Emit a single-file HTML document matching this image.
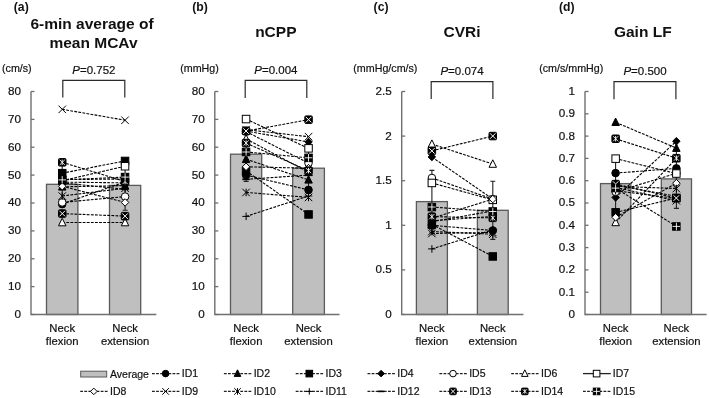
<!DOCTYPE html>
<html><head><meta charset="utf-8"><style>
html,body{margin:0;padding:0;background:#fff;width:709px;height:398px;overflow:hidden}
svg{will-change:transform}
svg text{font-family:"Liberation Sans",sans-serif;fill:#111}
svg text:not([font-weight]){stroke:#111;stroke-width:0.2px}
</style></head><body>
<svg width="709" height="398" viewBox="0 0 709 398" style="display:block;font-family:'Liberation Sans',sans-serif"><text x="13.8" y="11.0" font-size="12.2" font-weight="bold">(a)</text>
<text x="192.2" y="11.0" font-size="12.2" font-weight="bold">(b)</text>
<text x="373.6" y="11.0" font-size="12.2" font-weight="bold">(c)</text>
<text x="559.0" y="11.0" font-size="12.2" font-weight="bold">(d)</text>
<text x="92" y="29.2" font-size="15.5" font-weight="bold" text-anchor="middle">6-min average of</text>
<text x="93.5" y="48.1" font-size="15.5" font-weight="bold" text-anchor="middle">mean MCAv</text>
<text x="275.8" y="37.3" font-size="15.5" font-weight="bold" text-anchor="middle">nCPP</text>
<text x="462" y="37.3" font-size="15.5" font-weight="bold" text-anchor="middle">CVRi</text>
<text x="642.8" y="37.3" font-size="15.5" font-weight="bold" text-anchor="middle">Gain LF</text>
<text x="2.0" y="71.9" font-size="10.7">(cm/s)</text>
<text x="180.2" y="71.9" font-size="10.7">(mmHg)</text>
<text x="353.3" y="71.9" font-size="10.7">(mmHg/cm/s)</text>
<text x="539.2" y="71.9" font-size="10.7">(cm/s/mmHg)</text>
<text x="93.9" y="74.0" font-size="11.5" text-anchor="middle"><tspan font-style="italic">P</tspan>=0.752</text>
<path d="M62.8,97.6V80.3H124.8V97.6" fill="none" stroke="#2a2a2a" stroke-width="1.2"/>
<rect x="46.5" y="184.3" width="31.4" height="130.2" fill="#bfbfbf" stroke="#5a5a5a" stroke-width="1.3"/>
<rect x="109.5" y="185.4" width="31.2" height="129.1" fill="#bfbfbf" stroke="#5a5a5a" stroke-width="1.3"/>
<path d="M31.0,314.5H34.5" stroke="#6f6f6f" stroke-width="1.3"/>
<text x="21.0" y="317.9" font-size="11.7" text-anchor="end">0</text>
<path d="M31.0,286.6H34.5" stroke="#6f6f6f" stroke-width="1.3"/>
<text x="21.0" y="290.0" font-size="11.7" text-anchor="end">10</text>
<path d="M31.0,258.8H34.5" stroke="#6f6f6f" stroke-width="1.3"/>
<text x="21.0" y="262.1" font-size="11.7" text-anchor="end">20</text>
<path d="M31.0,230.9H34.5" stroke="#6f6f6f" stroke-width="1.3"/>
<text x="21.0" y="234.3" font-size="11.7" text-anchor="end">30</text>
<path d="M31.0,203.0H34.5" stroke="#6f6f6f" stroke-width="1.3"/>
<text x="21.0" y="206.4" font-size="11.7" text-anchor="end">40</text>
<path d="M31.0,175.1H34.5" stroke="#6f6f6f" stroke-width="1.3"/>
<text x="21.0" y="178.5" font-size="11.7" text-anchor="end">50</text>
<path d="M31.0,147.2H34.5" stroke="#6f6f6f" stroke-width="1.3"/>
<text x="21.0" y="150.7" font-size="11.7" text-anchor="end">60</text>
<path d="M31.0,119.4H34.5" stroke="#6f6f6f" stroke-width="1.3"/>
<text x="21.0" y="122.8" font-size="11.7" text-anchor="end">70</text>
<path d="M31.0,91.5H34.5" stroke="#6f6f6f" stroke-width="1.3"/>
<text x="21.0" y="94.9" font-size="11.7" text-anchor="end">80</text>
<path d="M31.0,91.5V314.5H156.3" fill="none" stroke="#6f6f6f" stroke-width="1.4"/>
<text x="62.2" y="332.2" font-size="11.3" text-anchor="middle">Neck</text>
<text x="62.2" y="345.0" font-size="11.3" text-anchor="middle">flexion</text>
<text x="125.1" y="332.2" font-size="11.3" text-anchor="middle">Neck</text>
<text x="125.1" y="345.0" font-size="11.3" text-anchor="middle">extension</text>
<path d="M62.2,161.5V207.2M59.7,161.5H64.7M59.7,207.2H64.7" stroke="#222" stroke-width="1.1"/>
<path d="M125.1,160.6V210.2M122.6,160.6H127.6M122.6,210.2H127.6" stroke="#222" stroke-width="1.1"/>
<path d="M62.2,204.1L125.1,181.8" stroke="#000" stroke-width="1.1" stroke-dasharray="2.8,1.3"/>
<path d="M62.2,186.8L125.1,185.7" stroke="#000" stroke-width="1.1" stroke-dasharray="2.8,1.3"/>
<path d="M62.2,173.2L125.1,160.9" stroke="#000" stroke-width="1.1" stroke-dasharray="2.8,1.3"/>
<path d="M62.2,182.1L125.1,182.9" stroke="#000" stroke-width="1.1" stroke-dasharray="2.8,1.3"/>
<path d="M62.2,202.4L125.1,196.6" stroke="#000" stroke-width="1.1" stroke-dasharray="2.8,1.3"/>
<path d="M62.2,222.5L125.1,222.5" stroke="#000" stroke-width="1.1" stroke-dasharray="2.8,1.3"/>
<path d="M62.2,180.7L125.1,166.2" stroke="#000" stroke-width="1.1" stroke-dasharray="2.8,1.3"/>
<path d="M62.2,186.3L125.1,202.4" stroke="#000" stroke-width="1.1" stroke-dasharray="2.8,1.3"/>
<path d="M62.2,109.3L125.1,120.2" stroke="#000" stroke-width="1.1" stroke-dasharray="2.8,1.3"/>
<path d="M62.2,196.0L125.1,188.2" stroke="#000" stroke-width="1.1" stroke-dasharray="2.8,1.3"/>
<path d="M62.2,179.6L125.1,179.0" stroke="#000" stroke-width="1.1" stroke-dasharray="2.8,1.3"/>
<path d="M62.2,182.9L125.1,189.3" stroke="#000" stroke-width="1.1" stroke-dasharray="2.8,1.3"/>
<path d="M62.2,213.6L125.1,216.1" stroke="#000" stroke-width="1.1" stroke-dasharray="2.8,1.3"/>
<path d="M62.2,162.3L125.1,181.5" stroke="#000" stroke-width="1.1" stroke-dasharray="2.8,1.3"/>
<path d="M62.2,179.9L125.1,177.1" stroke="#000" stroke-width="1.1" stroke-dasharray="2.8,1.3"/>
<circle cx="62.2" cy="204.1" r="3.8" fill="#000" stroke="#000" stroke-width="1"/>
<circle cx="125.1" cy="181.8" r="3.8" fill="#000" stroke="#000" stroke-width="1"/>
<polygon points="62.2,182.6 66.0,190.1 58.5,190.1" fill="#000" stroke="#000" stroke-width="1"/>
<polygon points="125.1,181.5 128.8,189.0 121.3,189.0" fill="#000" stroke="#000" stroke-width="1"/>
<rect x="58.5" y="169.4" width="7.5" height="7.5" fill="#000" stroke="#000" stroke-width="1"/>
<rect x="121.3" y="157.2" width="7.5" height="7.5" fill="#000" stroke="#000" stroke-width="1"/>
<polygon points="62.2,178.3 66.0,182.1 62.2,185.8 58.5,182.1" fill="#000" stroke="#000" stroke-width="1"/>
<polygon points="125.1,179.2 128.8,182.9 125.1,186.7 121.3,182.9" fill="#000" stroke="#000" stroke-width="1"/>
<circle cx="62.2" cy="202.4" r="3.8" fill="#fff" stroke="#000" stroke-width="1"/>
<circle cx="125.1" cy="196.6" r="3.8" fill="#fff" stroke="#000" stroke-width="1"/>
<polygon points="62.2,218.3 66.0,225.8 58.5,225.8" fill="#fff" stroke="#000" stroke-width="1"/>
<polygon points="125.1,218.3 128.8,225.8 121.3,225.8" fill="#fff" stroke="#000" stroke-width="1"/>
<rect x="58.5" y="176.9" width="7.5" height="7.5" fill="#fff" stroke="#000" stroke-width="1"/>
<rect x="121.3" y="162.5" width="7.5" height="7.5" fill="#fff" stroke="#000" stroke-width="1"/>
<polygon points="62.2,182.5 66.0,186.3 62.2,190.0 58.5,186.3" fill="#fff" stroke="#000" stroke-width="1"/>
<polygon points="125.1,198.7 128.8,202.4 125.1,206.2 121.3,202.4" fill="#fff" stroke="#000" stroke-width="1"/>
<path d="M58.5,105.6L66.0,113.1M66.0,105.6L58.5,113.1" stroke="#000" stroke-width="1"/>
<path d="M121.3,116.5L128.8,124.0M128.8,116.5L121.3,124.0" stroke="#000" stroke-width="1"/>
<path d="M58.5,192.3L66.0,199.8M66.0,192.3L58.5,199.8M62.2,192.3L62.2,199.8" stroke="#000" stroke-width="1"/>
<path d="M121.3,184.5L128.8,192.0M128.8,184.5L121.3,192.0M125.1,184.5L125.1,192.0" stroke="#000" stroke-width="1"/>
<path d="M58.5,179.6L66.0,179.6M62.2,175.8L62.2,183.3" stroke="#000" stroke-width="1"/>
<path d="M121.3,179.0L128.8,179.0M125.1,175.3L125.1,182.8" stroke="#000" stroke-width="1"/>
<path d="M58.5,182.9L66.0,182.9" stroke="#000" stroke-width="1.6"/>
<path d="M121.3,189.3L128.8,189.3" stroke="#000" stroke-width="1.6"/>
<rect x="58.5" y="209.8" width="7.5" height="7.5" rx="1" fill="#000" stroke="#000" stroke-width="1"/><path d="M59.5,210.8L65.0,216.3M65.0,210.8L59.5,216.3" stroke="#fff" stroke-width="1"/>
<rect x="121.3" y="212.4" width="7.5" height="7.5" rx="1" fill="#000" stroke="#000" stroke-width="1"/><path d="M122.3,213.4L127.8,218.9M127.8,213.4L122.3,218.9" stroke="#fff" stroke-width="1"/>
<rect x="58.5" y="158.6" width="7.5" height="7.5" rx="1" fill="#000" stroke="#000" stroke-width="1"/><path d="M59.7,159.8L64.8,164.9M64.8,159.8L59.7,164.9M62.2,159.6L62.2,165.1" stroke="#fff" stroke-width="0.9"/>
<rect x="121.3" y="177.8" width="7.5" height="7.5" rx="1" fill="#000" stroke="#000" stroke-width="1"/><path d="M122.5,179.0L127.6,184.1M127.6,179.0L122.5,184.1M125.1,178.8L125.1,184.3" stroke="#fff" stroke-width="0.9"/>
<rect x="58.5" y="176.1" width="7.5" height="7.5" fill="#000" stroke="#000" stroke-width="1"/><path d="M58.5,179.9L66.0,179.9M62.2,176.1L62.2,183.6" stroke="#fff" stroke-width="0.9"/>
<rect x="121.3" y="173.3" width="7.5" height="7.5" fill="#000" stroke="#000" stroke-width="1"/><path d="M121.3,177.1L128.8,177.1M125.1,173.3L125.1,180.8" stroke="#fff" stroke-width="0.9"/>
<text x="275.9" y="74.0" font-size="11.5" text-anchor="middle"><tspan font-style="italic">P</tspan>=0.004</text>
<path d="M245.2,97.9V80.4H306.8V97.9" fill="none" stroke="#2a2a2a" stroke-width="1.2"/>
<rect x="230.5" y="154.2" width="31.2" height="160.3" fill="#bfbfbf" stroke="#5a5a5a" stroke-width="1.3"/>
<rect x="292.7" y="168.2" width="31.7" height="146.3" fill="#bfbfbf" stroke="#5a5a5a" stroke-width="1.3"/>
<path d="M214.8,314.5H218.3" stroke="#6f6f6f" stroke-width="1.3"/>
<text x="204.8" y="317.9" font-size="11.7" text-anchor="end">0</text>
<path d="M214.8,286.6H218.3" stroke="#6f6f6f" stroke-width="1.3"/>
<text x="204.8" y="290.0" font-size="11.7" text-anchor="end">10</text>
<path d="M214.8,258.8H218.3" stroke="#6f6f6f" stroke-width="1.3"/>
<text x="204.8" y="262.1" font-size="11.7" text-anchor="end">20</text>
<path d="M214.8,230.9H218.3" stroke="#6f6f6f" stroke-width="1.3"/>
<text x="204.8" y="234.3" font-size="11.7" text-anchor="end">30</text>
<path d="M214.8,203.0H218.3" stroke="#6f6f6f" stroke-width="1.3"/>
<text x="204.8" y="206.4" font-size="11.7" text-anchor="end">40</text>
<path d="M214.8,175.1H218.3" stroke="#6f6f6f" stroke-width="1.3"/>
<text x="204.8" y="178.5" font-size="11.7" text-anchor="end">50</text>
<path d="M214.8,147.2H218.3" stroke="#6f6f6f" stroke-width="1.3"/>
<text x="204.8" y="150.7" font-size="11.7" text-anchor="end">60</text>
<path d="M214.8,119.4H218.3" stroke="#6f6f6f" stroke-width="1.3"/>
<text x="204.8" y="122.8" font-size="11.7" text-anchor="end">70</text>
<path d="M214.8,91.5H218.3" stroke="#6f6f6f" stroke-width="1.3"/>
<text x="204.8" y="94.9" font-size="11.7" text-anchor="end">80</text>
<path d="M214.8,91.5V314.5H339.5" fill="none" stroke="#6f6f6f" stroke-width="1.4"/>
<text x="246.1" y="332.2" font-size="11.3" text-anchor="middle">Neck</text>
<text x="246.1" y="345.0" font-size="11.3" text-anchor="middle">flexion</text>
<text x="308.5" y="332.2" font-size="11.3" text-anchor="middle">Neck</text>
<text x="308.5" y="345.0" font-size="11.3" text-anchor="middle">extension</text>
<path d="M246.1,127.0V181.4M243.6,127.0H248.6M243.6,181.4H248.6" stroke="#222" stroke-width="1.1"/>
<path d="M308.5,143.1V193.2M306.0,143.1H311.0M306.0,193.2H311.0" stroke="#222" stroke-width="1.1"/>
<path d="M246.1,175.1L308.5,189.9" stroke="#000" stroke-width="1.1" stroke-dasharray="2.8,1.3"/>
<path d="M246.1,159.2L308.5,179.9" stroke="#000" stroke-width="1.1" stroke-dasharray="2.8,1.3"/>
<path d="M246.1,170.9L308.5,214.4" stroke="#000" stroke-width="1.1" stroke-dasharray="2.8,1.3"/>
<path d="M246.1,131.1L308.5,142.0" stroke="#000" stroke-width="1.1" stroke-dasharray="2.8,1.3"/>
<path d="M246.1,131.6L308.5,163.1" stroke="#000" stroke-width="1.1" stroke-dasharray="2.8,1.3"/>
<path d="M246.1,138.9L308.5,172.3" stroke="#000" stroke-width="1.1" stroke-dasharray="2.8,1.3"/>
<path d="M246.1,119.1L308.5,148.4" stroke="#000" stroke-width="1.1" stroke-dasharray="2.8,1.3"/>
<path d="M246.1,166.8L308.5,168.2" stroke="#000" stroke-width="1.1" stroke-dasharray="2.8,1.3"/>
<path d="M246.1,129.7L308.5,136.7" stroke="#000" stroke-width="1.1" stroke-dasharray="2.8,1.3"/>
<path d="M246.1,192.4L308.5,197.4" stroke="#000" stroke-width="1.1" stroke-dasharray="2.8,1.3"/>
<path d="M246.1,216.4L308.5,196.0" stroke="#000" stroke-width="1.1" stroke-dasharray="2.8,1.3"/>
<path d="M246.1,179.3L308.5,175.1" stroke="#000" stroke-width="1.1" stroke-dasharray="2.8,1.3"/>
<path d="M246.1,131.1L308.5,119.7" stroke="#000" stroke-width="1.1" stroke-dasharray="2.8,1.3"/>
<path d="M246.1,143.1L308.5,170.7" stroke="#000" stroke-width="1.1" stroke-dasharray="2.8,1.3"/>
<path d="M246.1,152.0L308.5,157.8" stroke="#000" stroke-width="1.1" stroke-dasharray="2.8,1.3"/>
<circle cx="246.1" cy="175.1" r="3.8" fill="#000" stroke="#000" stroke-width="1"/>
<circle cx="308.5" cy="189.9" r="3.8" fill="#000" stroke="#000" stroke-width="1"/>
<polygon points="246.1,155.0 249.8,162.5 242.3,162.5" fill="#000" stroke="#000" stroke-width="1"/>
<polygon points="308.5,175.6 312.3,183.1 304.8,183.1" fill="#000" stroke="#000" stroke-width="1"/>
<rect x="242.3" y="167.2" width="7.5" height="7.5" fill="#000" stroke="#000" stroke-width="1"/>
<rect x="304.8" y="210.7" width="7.5" height="7.5" fill="#000" stroke="#000" stroke-width="1"/>
<polygon points="246.1,127.3 249.8,131.1 246.1,134.8 242.3,131.1" fill="#000" stroke="#000" stroke-width="1"/>
<polygon points="308.5,138.2 312.3,142.0 308.5,145.7 304.8,142.0" fill="#000" stroke="#000" stroke-width="1"/>
<circle cx="246.1" cy="131.6" r="3.8" fill="#fff" stroke="#000" stroke-width="1"/>
<circle cx="308.5" cy="163.1" r="3.8" fill="#fff" stroke="#000" stroke-width="1"/>
<polygon points="246.1,134.6 249.8,142.1 242.3,142.1" fill="#fff" stroke="#000" stroke-width="1"/>
<polygon points="308.5,168.1 312.3,175.6 304.8,175.6" fill="#fff" stroke="#000" stroke-width="1"/>
<rect x="242.3" y="115.3" width="7.5" height="7.5" fill="#fff" stroke="#000" stroke-width="1"/>
<rect x="304.8" y="144.6" width="7.5" height="7.5" fill="#fff" stroke="#000" stroke-width="1"/>
<polygon points="246.1,163.0 249.8,166.8 246.1,170.5 242.3,166.8" fill="#fff" stroke="#000" stroke-width="1"/>
<polygon points="308.5,164.4 312.3,168.2 308.5,171.9 304.8,168.2" fill="#fff" stroke="#000" stroke-width="1"/>
<path d="M242.3,125.9L249.8,133.4M249.8,125.9L242.3,133.4" stroke="#000" stroke-width="1"/>
<path d="M304.8,132.9L312.3,140.4M312.3,132.9L304.8,140.4" stroke="#000" stroke-width="1"/>
<path d="M242.3,188.7L249.8,196.2M249.8,188.7L242.3,196.2M246.1,188.7L246.1,196.2" stroke="#000" stroke-width="1"/>
<path d="M304.8,193.7L312.3,201.2M312.3,193.7L304.8,201.2M308.5,193.7L308.5,201.2" stroke="#000" stroke-width="1"/>
<path d="M242.3,216.4L249.8,216.4M246.1,212.6L246.1,220.1" stroke="#000" stroke-width="1"/>
<path d="M304.8,196.0L312.3,196.0M308.5,192.3L308.5,199.8" stroke="#000" stroke-width="1"/>
<path d="M242.3,179.3L249.8,179.3" stroke="#000" stroke-width="1.6"/>
<path d="M304.8,175.1L312.3,175.1" stroke="#000" stroke-width="1.6"/>
<rect x="242.3" y="127.3" width="7.5" height="7.5" rx="1" fill="#000" stroke="#000" stroke-width="1"/><path d="M243.3,128.3L248.8,133.8M248.8,128.3L243.3,133.8" stroke="#fff" stroke-width="1"/>
<rect x="304.8" y="115.9" width="7.5" height="7.5" rx="1" fill="#000" stroke="#000" stroke-width="1"/><path d="M305.8,116.9L311.3,122.4M311.3,116.9L305.8,122.4" stroke="#fff" stroke-width="1"/>
<rect x="242.3" y="139.3" width="7.5" height="7.5" rx="1" fill="#000" stroke="#000" stroke-width="1"/><path d="M243.5,140.5L248.7,145.6M248.7,140.5L243.5,145.6M246.1,140.3L246.1,145.8" stroke="#fff" stroke-width="0.9"/>
<rect x="304.8" y="166.9" width="7.5" height="7.5" rx="1" fill="#000" stroke="#000" stroke-width="1"/><path d="M306.0,168.1L311.1,173.2M311.1,168.1L306.0,173.2M308.5,167.9L308.5,173.4" stroke="#fff" stroke-width="0.9"/>
<rect x="242.3" y="148.2" width="7.5" height="7.5" fill="#000" stroke="#000" stroke-width="1"/><path d="M242.3,152.0L249.8,152.0M246.1,148.2L246.1,155.7" stroke="#fff" stroke-width="0.9"/>
<rect x="304.8" y="154.1" width="7.5" height="7.5" fill="#000" stroke="#000" stroke-width="1"/><path d="M304.8,157.8L312.3,157.8M308.5,154.1L308.5,161.6" stroke="#fff" stroke-width="0.9"/>
<text x="462.0" y="75.2" font-size="11.5" text-anchor="middle"><tspan font-style="italic">P</tspan>=0.074</text>
<path d="M431.2,99.0V81.6H492.9V99.0" fill="none" stroke="#2a2a2a" stroke-width="1.2"/>
<rect x="416.4" y="201.6" width="31.0" height="112.9" fill="#bfbfbf" stroke="#5a5a5a" stroke-width="1.3"/>
<rect x="477.4" y="210.3" width="30.8" height="104.2" fill="#bfbfbf" stroke="#5a5a5a" stroke-width="1.3"/>
<path d="M401.7,314.5H405.2" stroke="#6f6f6f" stroke-width="1.3"/>
<text x="391.7" y="317.9" font-size="11.7" text-anchor="end">0</text>
<path d="M401.7,269.9H405.2" stroke="#6f6f6f" stroke-width="1.3"/>
<text x="391.7" y="273.3" font-size="11.7" text-anchor="end">0.5</text>
<path d="M401.7,225.3H405.2" stroke="#6f6f6f" stroke-width="1.3"/>
<text x="391.7" y="228.7" font-size="11.7" text-anchor="end">1</text>
<path d="M401.7,180.7H405.2" stroke="#6f6f6f" stroke-width="1.3"/>
<text x="391.7" y="184.1" font-size="11.7" text-anchor="end">1.5</text>
<path d="M401.7,136.1H405.2" stroke="#6f6f6f" stroke-width="1.3"/>
<text x="391.7" y="139.5" font-size="11.7" text-anchor="end">2</text>
<path d="M401.7,91.5H405.2" stroke="#6f6f6f" stroke-width="1.3"/>
<text x="391.7" y="94.9" font-size="11.7" text-anchor="end">2.5</text>
<path d="M401.7,91.5V314.5H523.4" fill="none" stroke="#6f6f6f" stroke-width="1.4"/>
<text x="431.9" y="332.2" font-size="11.3" text-anchor="middle">Neck</text>
<text x="431.9" y="345.0" font-size="11.3" text-anchor="middle">flexion</text>
<text x="492.8" y="332.2" font-size="11.3" text-anchor="middle">Neck</text>
<text x="492.8" y="345.0" font-size="11.3" text-anchor="middle">extension</text>
<path d="M431.9,170.4V232.8M429.4,170.4H434.4M429.4,232.8H434.4" stroke="#222" stroke-width="1.1"/>
<path d="M492.8,181.2V239.4M490.3,181.2H495.3M490.3,239.4H495.3" stroke="#222" stroke-width="1.1"/>
<path d="M431.9,225.3L492.8,230.5" stroke="#000" stroke-width="1.1" stroke-dasharray="2.8,1.3"/>
<path d="M431.9,221.7L492.8,211.0" stroke="#000" stroke-width="1.1" stroke-dasharray="2.8,1.3"/>
<path d="M431.9,224.4L492.8,256.4" stroke="#000" stroke-width="1.1" stroke-dasharray="2.8,1.3"/>
<path d="M431.9,157.0L492.8,199.1" stroke="#000" stroke-width="1.1" stroke-dasharray="2.8,1.3"/>
<path d="M431.9,178.0L492.8,199.1" stroke="#000" stroke-width="1.1" stroke-dasharray="2.8,1.3"/>
<path d="M431.9,144.1L492.8,164.0" stroke="#000" stroke-width="1.1" stroke-dasharray="2.8,1.3"/>
<path d="M431.9,182.9L492.8,199.9" stroke="#000" stroke-width="1.1" stroke-dasharray="2.8,1.3"/>
<path d="M431.9,218.2L492.8,199.1" stroke="#000" stroke-width="1.1" stroke-dasharray="2.8,1.3"/>
<path d="M431.9,233.5L492.8,232.4" stroke="#000" stroke-width="1.1" stroke-dasharray="2.8,1.3"/>
<path d="M431.9,231.5L492.8,234.2" stroke="#000" stroke-width="1.1" stroke-dasharray="2.8,1.3"/>
<path d="M431.9,248.9L492.8,229.8" stroke="#000" stroke-width="1.1" stroke-dasharray="2.8,1.3"/>
<path d="M431.9,220.8L492.8,216.4" stroke="#000" stroke-width="1.1" stroke-dasharray="2.8,1.3"/>
<path d="M431.9,150.8L492.8,136.1" stroke="#000" stroke-width="1.1" stroke-dasharray="2.8,1.3"/>
<path d="M431.9,216.6L492.8,217.9" stroke="#000" stroke-width="1.1" stroke-dasharray="2.8,1.3"/>
<path d="M431.9,207.0L492.8,211.5" stroke="#000" stroke-width="1.1" stroke-dasharray="2.8,1.3"/>
<circle cx="431.9" cy="225.3" r="3.8" fill="#000" stroke="#000" stroke-width="1"/>
<circle cx="492.8" cy="230.5" r="3.8" fill="#000" stroke="#000" stroke-width="1"/>
<polygon points="431.9,217.5 435.6,225.0 428.1,225.0" fill="#000" stroke="#000" stroke-width="1"/>
<polygon points="492.8,206.8 496.5,214.3 489.0,214.3" fill="#000" stroke="#000" stroke-width="1"/>
<rect x="428.1" y="220.7" width="7.5" height="7.5" fill="#000" stroke="#000" stroke-width="1"/>
<rect x="489.0" y="252.7" width="7.5" height="7.5" fill="#000" stroke="#000" stroke-width="1"/>
<polygon points="431.9,153.2 435.6,157.0 431.9,160.7 428.1,157.0" fill="#000" stroke="#000" stroke-width="1"/>
<polygon points="492.8,195.3 496.5,199.1 492.8,202.8 489.0,199.1" fill="#000" stroke="#000" stroke-width="1"/>
<circle cx="431.9" cy="178.0" r="3.8" fill="#fff" stroke="#000" stroke-width="1"/>
<circle cx="492.8" cy="199.1" r="3.8" fill="#fff" stroke="#000" stroke-width="1"/>
<polygon points="431.9,139.9 435.6,147.4 428.1,147.4" fill="#fff" stroke="#000" stroke-width="1"/>
<polygon points="492.8,159.8 496.5,167.3 489.0,167.3" fill="#fff" stroke="#000" stroke-width="1"/>
<rect x="428.1" y="179.2" width="7.5" height="7.5" fill="#fff" stroke="#000" stroke-width="1"/>
<rect x="489.0" y="196.1" width="7.5" height="7.5" fill="#fff" stroke="#000" stroke-width="1"/>
<polygon points="431.9,214.4 435.6,218.2 431.9,221.9 428.1,218.2" fill="#fff" stroke="#000" stroke-width="1"/>
<polygon points="492.8,195.3 496.5,199.1 492.8,202.8 489.0,199.1" fill="#fff" stroke="#000" stroke-width="1"/>
<path d="M428.1,229.8L435.6,237.3M435.6,229.8L428.1,237.3" stroke="#000" stroke-width="1"/>
<path d="M489.0,228.7L496.5,236.2M496.5,228.7L489.0,236.2" stroke="#000" stroke-width="1"/>
<path d="M428.1,227.8L435.6,235.3M435.6,227.8L428.1,235.3M431.9,227.8L431.9,235.3" stroke="#000" stroke-width="1"/>
<path d="M489.0,230.5L496.5,238.0M496.5,230.5L489.0,238.0M492.8,230.5L492.8,238.0" stroke="#000" stroke-width="1"/>
<path d="M428.1,248.9L435.6,248.9M431.9,245.2L431.9,252.7" stroke="#000" stroke-width="1"/>
<path d="M489.0,229.8L496.5,229.8M492.8,226.0L492.8,233.5" stroke="#000" stroke-width="1"/>
<path d="M428.1,220.8L435.6,220.8" stroke="#000" stroke-width="1.6"/>
<path d="M489.0,216.4L496.5,216.4" stroke="#000" stroke-width="1.6"/>
<rect x="428.1" y="147.1" width="7.5" height="7.5" rx="1" fill="#000" stroke="#000" stroke-width="1"/><path d="M429.1,148.1L434.6,153.6M434.6,148.1L429.1,153.6" stroke="#fff" stroke-width="1"/>
<rect x="489.0" y="132.3" width="7.5" height="7.5" rx="1" fill="#000" stroke="#000" stroke-width="1"/><path d="M490.0,133.3L495.5,138.8M495.5,133.3L490.0,138.8" stroke="#fff" stroke-width="1"/>
<rect x="428.1" y="212.9" width="7.5" height="7.5" rx="1" fill="#000" stroke="#000" stroke-width="1"/><path d="M429.3,214.1L434.4,219.2M434.4,214.1L429.3,219.2M431.9,213.9L431.9,219.4" stroke="#fff" stroke-width="0.9"/>
<rect x="489.0" y="214.1" width="7.5" height="7.5" rx="1" fill="#000" stroke="#000" stroke-width="1"/><path d="M490.2,215.3L495.3,220.4M495.3,215.3L490.2,220.4M492.8,215.1L492.8,220.6" stroke="#fff" stroke-width="0.9"/>
<rect x="428.1" y="203.3" width="7.5" height="7.5" fill="#000" stroke="#000" stroke-width="1"/><path d="M428.1,207.0L435.6,207.0M431.9,203.3L431.9,210.8" stroke="#fff" stroke-width="0.9"/>
<rect x="489.0" y="207.7" width="7.5" height="7.5" fill="#000" stroke="#000" stroke-width="1"/><path d="M489.0,211.5L496.5,211.5M492.8,207.7L492.8,215.2" stroke="#fff" stroke-width="0.9"/>
<text x="645.0" y="75.2" font-size="11.5" text-anchor="middle"><tspan font-style="italic">P</tspan>=0.500</text>
<path d="M614.0,99.2V81.6H675.9V99.2" fill="none" stroke="#2a2a2a" stroke-width="1.2"/>
<rect x="600.5" y="183.6" width="30.3" height="130.9" fill="#bfbfbf" stroke="#5a5a5a" stroke-width="1.3"/>
<rect x="661.3" y="178.9" width="30.2" height="135.6" fill="#bfbfbf" stroke="#5a5a5a" stroke-width="1.3"/>
<path d="M585.0,314.5H588.5" stroke="#6f6f6f" stroke-width="1.3"/>
<text x="575.0" y="317.9" font-size="11.7" text-anchor="end">0</text>
<path d="M585.0,292.2H588.5" stroke="#6f6f6f" stroke-width="1.3"/>
<text x="575.0" y="295.6" font-size="11.7" text-anchor="end">0.1</text>
<path d="M585.0,269.9H588.5" stroke="#6f6f6f" stroke-width="1.3"/>
<text x="575.0" y="273.3" font-size="11.7" text-anchor="end">0.2</text>
<path d="M585.0,247.6H588.5" stroke="#6f6f6f" stroke-width="1.3"/>
<text x="575.0" y="251.0" font-size="11.7" text-anchor="end">0.3</text>
<path d="M585.0,225.3H588.5" stroke="#6f6f6f" stroke-width="1.3"/>
<text x="575.0" y="228.7" font-size="11.7" text-anchor="end">0.4</text>
<path d="M585.0,203.0H588.5" stroke="#6f6f6f" stroke-width="1.3"/>
<text x="575.0" y="206.4" font-size="11.7" text-anchor="end">0.5</text>
<path d="M585.0,180.7H588.5" stroke="#6f6f6f" stroke-width="1.3"/>
<text x="575.0" y="184.1" font-size="11.7" text-anchor="end">0.6</text>
<path d="M585.0,158.4H588.5" stroke="#6f6f6f" stroke-width="1.3"/>
<text x="575.0" y="161.8" font-size="11.7" text-anchor="end">0.7</text>
<path d="M585.0,136.1H588.5" stroke="#6f6f6f" stroke-width="1.3"/>
<text x="575.0" y="139.5" font-size="11.7" text-anchor="end">0.8</text>
<path d="M585.0,113.8H588.5" stroke="#6f6f6f" stroke-width="1.3"/>
<text x="575.0" y="117.2" font-size="11.7" text-anchor="end">0.9</text>
<path d="M585.0,91.5H588.5" stroke="#6f6f6f" stroke-width="1.3"/>
<text x="575.0" y="94.9" font-size="11.7" text-anchor="end">1</text>
<path d="M585.0,91.5V314.5H706.6" fill="none" stroke="#6f6f6f" stroke-width="1.4"/>
<text x="615.6" y="332.2" font-size="11.3" text-anchor="middle">Neck</text>
<text x="615.6" y="345.0" font-size="11.3" text-anchor="middle">flexion</text>
<text x="676.4" y="332.2" font-size="11.3" text-anchor="middle">Neck</text>
<text x="676.4" y="345.0" font-size="11.3" text-anchor="middle">extension</text>
<path d="M615.6,158.0V209.2M613.1,158.0H618.1M613.1,209.2H618.1" stroke="#222" stroke-width="1.1"/>
<path d="M676.4,149.5V208.4M673.9,149.5H678.9M673.9,208.4H678.9" stroke="#222" stroke-width="1.1"/>
<path d="M615.6,173.1L676.4,168.4" stroke="#000" stroke-width="1.1" stroke-dasharray="2.8,1.3"/>
<path d="M615.6,122.3L676.4,148.1" stroke="#000" stroke-width="1.1" stroke-dasharray="2.8,1.3"/>
<path d="M615.6,212.4L676.4,198.1" stroke="#000" stroke-width="1.1" stroke-dasharray="2.8,1.3"/>
<path d="M615.6,197.4L676.4,141.2" stroke="#000" stroke-width="1.1" stroke-dasharray="2.8,1.3"/>
<path d="M615.6,191.8L676.4,173.3" stroke="#000" stroke-width="1.1" stroke-dasharray="2.8,1.3"/>
<path d="M615.6,222.4L676.4,158.4" stroke="#000" stroke-width="1.1" stroke-dasharray="2.8,1.3"/>
<path d="M615.6,158.6L676.4,173.6" stroke="#000" stroke-width="1.1" stroke-dasharray="2.8,1.3"/>
<path d="M615.6,217.3L676.4,183.2" stroke="#000" stroke-width="1.1" stroke-dasharray="2.8,1.3"/>
<path d="M615.6,187.4L676.4,200.8" stroke="#000" stroke-width="1.1" stroke-dasharray="2.8,1.3"/>
<path d="M615.6,186.3L676.4,188.5" stroke="#000" stroke-width="1.1" stroke-dasharray="2.8,1.3"/>
<path d="M615.6,190.7L676.4,198.5" stroke="#000" stroke-width="1.1" stroke-dasharray="2.8,1.3"/>
<path d="M615.6,185.2L676.4,196.3" stroke="#000" stroke-width="1.1" stroke-dasharray="2.8,1.3"/>
<path d="M615.6,184.0L676.4,198.1" stroke="#000" stroke-width="1.1" stroke-dasharray="2.8,1.3"/>
<path d="M615.6,138.8L676.4,158.2" stroke="#000" stroke-width="1.1" stroke-dasharray="2.8,1.3"/>
<path d="M615.6,188.1L676.4,226.4" stroke="#000" stroke-width="1.1" stroke-dasharray="2.8,1.3"/>
<circle cx="615.6" cy="173.1" r="3.8" fill="#000" stroke="#000" stroke-width="1"/>
<circle cx="676.4" cy="168.4" r="3.8" fill="#000" stroke="#000" stroke-width="1"/>
<polygon points="615.6,118.0 619.4,125.5 611.9,125.5" fill="#000" stroke="#000" stroke-width="1"/>
<polygon points="676.4,143.9 680.1,151.4 672.6,151.4" fill="#000" stroke="#000" stroke-width="1"/>
<rect x="611.9" y="208.6" width="7.5" height="7.5" fill="#000" stroke="#000" stroke-width="1"/>
<rect x="672.6" y="194.3" width="7.5" height="7.5" fill="#000" stroke="#000" stroke-width="1"/>
<polygon points="615.6,193.7 619.4,197.4 615.6,201.2 611.9,197.4" fill="#000" stroke="#000" stroke-width="1"/>
<polygon points="676.4,137.5 680.1,141.2 676.4,145.0 672.6,141.2" fill="#000" stroke="#000" stroke-width="1"/>
<circle cx="615.6" cy="191.8" r="3.8" fill="#fff" stroke="#000" stroke-width="1"/>
<circle cx="676.4" cy="173.3" r="3.8" fill="#fff" stroke="#000" stroke-width="1"/>
<polygon points="615.6,218.2 619.4,225.7 611.9,225.7" fill="#fff" stroke="#000" stroke-width="1"/>
<polygon points="676.4,154.2 680.1,161.7 672.6,161.7" fill="#fff" stroke="#000" stroke-width="1"/>
<rect x="611.9" y="154.9" width="7.5" height="7.5" fill="#fff" stroke="#000" stroke-width="1"/>
<rect x="672.6" y="169.8" width="7.5" height="7.5" fill="#fff" stroke="#000" stroke-width="1"/>
<polygon points="615.6,213.5 619.4,217.3 615.6,221.0 611.9,217.3" fill="#fff" stroke="#000" stroke-width="1"/>
<polygon points="676.4,179.4 680.1,183.2 676.4,186.9 672.6,183.2" fill="#fff" stroke="#000" stroke-width="1"/>
<path d="M611.9,183.6L619.4,191.1M619.4,183.6L611.9,191.1" stroke="#000" stroke-width="1"/>
<path d="M672.6,197.0L680.1,204.5M680.1,197.0L672.6,204.5" stroke="#000" stroke-width="1"/>
<path d="M611.9,182.5L619.4,190.0M619.4,182.5L611.9,190.0M615.6,182.5L615.6,190.0" stroke="#000" stroke-width="1"/>
<path d="M672.6,184.8L680.1,192.3M680.1,184.8L672.6,192.3M676.4,184.8L676.4,192.3" stroke="#000" stroke-width="1"/>
<path d="M611.9,190.7L619.4,190.7M615.6,187.0L615.6,194.5" stroke="#000" stroke-width="1"/>
<path d="M672.6,198.5L680.1,198.5M676.4,194.8L676.4,202.3" stroke="#000" stroke-width="1"/>
<path d="M611.9,185.2L619.4,185.2" stroke="#000" stroke-width="1.6"/>
<path d="M672.6,196.3L680.1,196.3" stroke="#000" stroke-width="1.6"/>
<rect x="611.9" y="180.3" width="7.5" height="7.5" rx="1" fill="#000" stroke="#000" stroke-width="1"/><path d="M612.9,181.3L618.4,186.8M618.4,181.3L612.9,186.8" stroke="#fff" stroke-width="1"/>
<rect x="672.6" y="194.3" width="7.5" height="7.5" rx="1" fill="#000" stroke="#000" stroke-width="1"/><path d="M673.6,195.3L679.1,200.8M679.1,195.3L673.6,200.8" stroke="#fff" stroke-width="1"/>
<rect x="611.9" y="135.0" width="7.5" height="7.5" rx="1" fill="#000" stroke="#000" stroke-width="1"/><path d="M613.1,136.2L618.2,141.3M618.2,136.2L613.1,141.3M615.6,136.0L615.6,141.5" stroke="#fff" stroke-width="0.9"/>
<rect x="672.6" y="154.4" width="7.5" height="7.5" rx="1" fill="#000" stroke="#000" stroke-width="1"/><path d="M673.9,155.6L678.9,160.7M678.9,155.6L673.9,160.7M676.4,155.4L676.4,160.9" stroke="#fff" stroke-width="0.9"/>
<rect x="611.9" y="184.3" width="7.5" height="7.5" fill="#000" stroke="#000" stroke-width="1"/><path d="M611.9,188.1L619.4,188.1M615.6,184.3L615.6,191.8" stroke="#fff" stroke-width="0.9"/>
<rect x="672.6" y="222.7" width="7.5" height="7.5" fill="#000" stroke="#000" stroke-width="1"/><path d="M672.6,226.4L680.1,226.4M676.4,222.7L676.4,230.2" stroke="#fff" stroke-width="0.9"/>
<rect x="80.7" y="371.2" width="26" height="5.8" fill="#bfbfbf" stroke="#595959" stroke-width="1"/>
<text x="110.0" y="377.5" font-size="10.5">Average</text>
<path d="M152.0,373.6H179.8" stroke="#222" stroke-width="1.3" stroke-dasharray="2.8,1.3"/><circle cx="165.6" cy="373.6" r="3.3" fill="#000" stroke="#000" stroke-width="1"/><text x="181.8" y="377.2" font-size="10.5">ID1</text>
<path d="M223.9,373.6H251.7" stroke="#222" stroke-width="1.3" stroke-dasharray="2.8,1.3"/><polygon points="237.5,369.8 240.8,376.4 234.2,376.4" fill="#000" stroke="#000" stroke-width="1"/><text x="253.7" y="377.2" font-size="10.5">ID2</text>
<path d="M295.7,373.6H323.5" stroke="#222" stroke-width="1.3" stroke-dasharray="2.8,1.3"/><rect x="306.0" y="370.3" width="6.6" height="6.6" fill="#000" stroke="#000" stroke-width="1"/><text x="325.5" y="377.2" font-size="10.5">ID3</text>
<path d="M367.5,373.6H395.3" stroke="#222" stroke-width="1.3" stroke-dasharray="2.8,1.3"/><polygon points="381.1,370.3 384.4,373.6 381.1,376.9 377.8,373.6" fill="#000" stroke="#000" stroke-width="1"/><text x="397.3" y="377.2" font-size="10.5">ID4</text>
<path d="M439.4,373.6H467.2" stroke="#222" stroke-width="1.3" stroke-dasharray="2.8,1.3"/><circle cx="453.0" cy="373.6" r="3.3" fill="#fff" stroke="#000" stroke-width="1"/><text x="469.2" y="377.2" font-size="10.5">ID5</text>
<path d="M511.2,373.6H539.0" stroke="#222" stroke-width="1.3" stroke-dasharray="2.8,1.3"/><polygon points="524.8,369.8 528.1,376.4 521.5,376.4" fill="#fff" stroke="#000" stroke-width="1"/><text x="541.0" y="377.2" font-size="10.5">ID6</text>
<path d="M583.0,373.6H610.8" stroke="#222" stroke-width="1.3"/><rect x="593.3" y="370.3" width="6.6" height="6.6" fill="#fff" stroke="#000" stroke-width="1"/><text x="612.8" y="377.2" font-size="10.5">ID7</text>
<path d="M80.2,391.4H108.0" stroke="#222" stroke-width="1.3" stroke-dasharray="2.8,1.3"/><polygon points="93.8,388.1 97.1,391.4 93.8,394.7 90.5,391.4" fill="#fff" stroke="#000" stroke-width="1"/><text x="110.0" y="395.0" font-size="10.5">ID8</text>
<path d="M152.0,391.4H179.8" stroke="#222" stroke-width="1.3" stroke-dasharray="2.8,1.3"/><path d="M162.3,388.1L168.9,394.7M168.9,388.1L162.3,394.7" stroke="#000" stroke-width="1"/><text x="181.8" y="395.0" font-size="10.5">ID9</text>
<path d="M223.9,391.4H251.7" stroke="#222" stroke-width="1.3" stroke-dasharray="2.8,1.3"/><path d="M234.2,388.1L240.8,394.7M240.8,388.1L234.2,394.7M237.5,388.1L237.5,394.7" stroke="#000" stroke-width="1"/><text x="253.7" y="395.0" font-size="10.5">ID10</text>
<path d="M295.7,391.4H323.5" stroke="#222" stroke-width="1.3" stroke-dasharray="2.8,1.3"/><path d="M306.0,391.4L312.6,391.4M309.3,388.1L309.3,394.7" stroke="#000" stroke-width="1"/><text x="325.5" y="395.0" font-size="10.5">ID11</text>
<path d="M367.5,391.4H395.3" stroke="#222" stroke-width="1.3" stroke-dasharray="2.8,1.3"/><path d="M377.8,391.4L384.4,391.4" stroke="#000" stroke-width="1.6"/><text x="397.3" y="395.0" font-size="10.5">ID12</text>
<path d="M439.4,391.4H467.2" stroke="#222" stroke-width="1.3" stroke-dasharray="2.8,1.3"/><rect x="449.7" y="388.1" width="6.6" height="6.6" rx="1" fill="#000" stroke="#000" stroke-width="1"/><path d="M450.7,389.1L455.3,393.7M455.3,389.1L450.7,393.7" stroke="#fff" stroke-width="1"/><text x="469.2" y="395.0" font-size="10.5">ID13</text>
<path d="M511.2,391.4H539.0" stroke="#222" stroke-width="1.3" stroke-dasharray="2.8,1.3"/><rect x="521.5" y="388.1" width="6.6" height="6.6" rx="1" fill="#000" stroke="#000" stroke-width="1"/><path d="M522.7,389.3L526.9,393.5M526.9,389.3L522.7,393.5M524.8,389.1L524.8,393.7" stroke="#fff" stroke-width="0.9"/><text x="541.0" y="395.0" font-size="10.5">ID14</text>
<path d="M583.0,391.4H610.8" stroke="#222" stroke-width="1.3" stroke-dasharray="2.8,1.3"/><rect x="593.3" y="388.1" width="6.6" height="6.6" fill="#000" stroke="#000" stroke-width="1"/><path d="M593.3,391.4L599.9,391.4M596.6,388.1L596.6,394.7" stroke="#fff" stroke-width="0.9"/><text x="612.8" y="395.0" font-size="10.5">ID15</text></svg>
</body></html>
